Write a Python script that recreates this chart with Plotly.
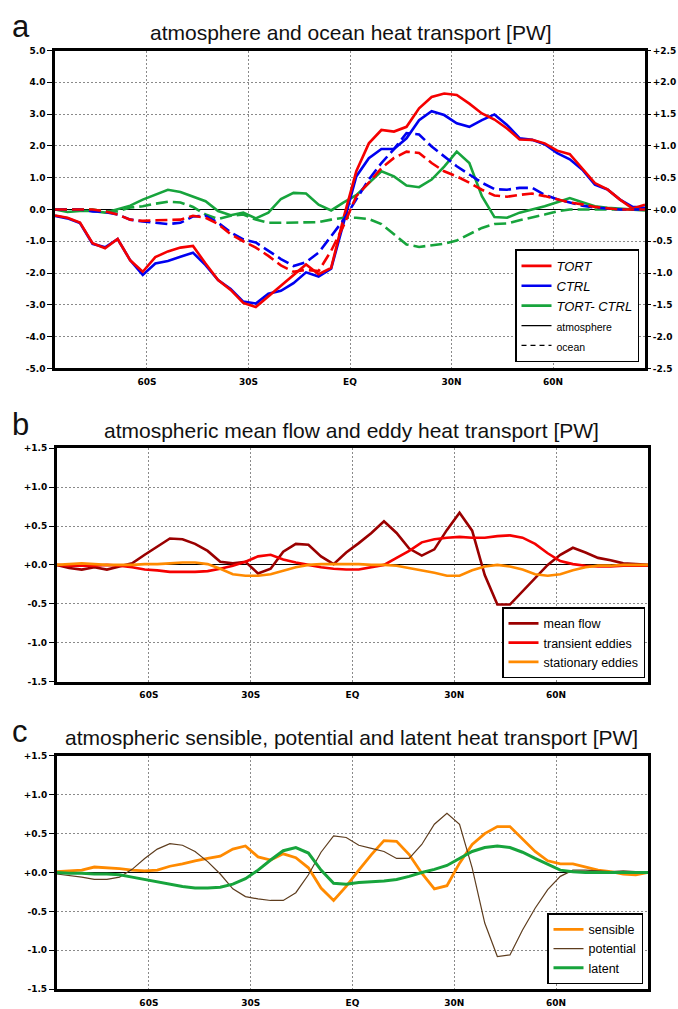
import plotly.graph_objects as go

W, H = 678, 1009

# ---------------- data ----------------
lat = [-87.16, -83.48, -79.78, -76.07, -72.36, -68.65, -64.94, -61.23, -57.52, -53.81,
       -50.10, -46.39, -42.68, -38.97, -35.26, -31.54, -27.83, -24.12, -20.41, -16.70,
       -12.99, -9.28, -5.57, -1.86, 1.86, 5.57, 9.28, 12.99, 16.70, 20.41,
       24.12, 27.83, 31.54, 35.26, 38.97, 42.68, 46.39, 50.10, 53.81, 57.52,
       61.23, 64.94, 68.65, 72.36, 76.07, 79.78, 83.48, 87.16]

x_tickvals = [-60, -30, 0, 30, 60]
x_ticktext = ["60S", "30S", "EQ", "30N", "60N"]

# panel a: atmosphere (left axis) [PW]
tort_atm = [-0.19, -0.26, -0.41, -1.06, -1.22, -0.93, -1.60, -1.96, -1.50, -1.32,
            -1.20, -1.15, -1.70, -2.22, -2.53, -2.94, -3.07, -2.73, -2.42, -2.06,
            -1.73, -2.04, -1.84, -0.25,
            1.20, 2.08, 2.50, 2.45, 2.60, 3.18, 3.54, 3.65, 3.60, 3.33,
            3.02, 2.83, 2.55, 2.20, 2.19, 2.08, 1.85, 1.74, 1.30, 0.83,
            0.63, 0.31, 0.03, 0.15]
ctrl_atm = [-0.20, -0.28, -0.43, -1.08, -1.19, -0.93, -1.60, -2.06, -1.70, -1.62,
            -1.49, -1.36, -1.75, -2.22, -2.50, -2.90, -2.96, -2.65, -2.56, -2.32,
            -1.98, -2.11, -1.86, -0.40,
            1.04, 1.61, 1.90, 1.90, 2.24, 2.81, 3.09, 2.97, 2.71, 2.60,
            2.81, 2.99, 2.66, 2.24, 2.19, 2.05, 1.77, 1.58, 1.25, 0.78,
            0.63, 0.31, 0.08, 0.05]
diff_atm = [0.00, -0.08, -0.05, -0.05, -0.10, 0.00, 0.12, 0.31, 0.46, 0.62,
            0.55, 0.41, 0.26, -0.05, -0.18, -0.10, -0.28, -0.10, 0.33, 0.52,
            0.50, 0.15, -0.03, 0.22,
            0.45, 0.83, 1.20, 1.04, 0.75, 0.70, 0.94, 1.35, 1.82, 1.46,
            0.42, -0.24, -0.26, -0.10, 0.00, 0.10, 0.23, 0.36, 0.23, 0.10,
            0.05, 0.02, 0.00, -0.03]

# panel a: ocean (right axis) [PW]
tort_ocn = [0.00, 0.00, 0.00, 0.00, -0.03, -0.08, -0.16, -0.18, -0.17, -0.17,
            -0.16, -0.10, -0.13, -0.23, -0.39, -0.50, -0.60, -0.73, -0.88, -0.98,
            -0.95, -0.97, -0.65, -0.25,
            0.21, 0.42, 0.65, 0.81, 0.91, 0.89, 0.73, 0.60, 0.52, 0.42,
            0.31, 0.22, 0.20, 0.23, 0.25, 0.21, 0.16, 0.11, 0.08, 0.04,
            0.02, 0.00, 0.00, 0.00]
ctrl_ocn = [0.00, 0.00, 0.00, -0.03, -0.04, -0.08, -0.16, -0.19, -0.21, -0.23,
            -0.21, -0.11, -0.10, -0.21, -0.36, -0.47, -0.52, -0.65, -0.78, -0.89,
            -0.83, -0.68, -0.42, -0.16,
            0.16, 0.47, 0.73, 0.95, 1.20, 1.18, 0.99, 0.83, 0.68, 0.55,
            0.42, 0.32, 0.31, 0.34, 0.34, 0.23, 0.16, 0.11, 0.06, 0.03,
            0.01, 0.00, 0.00, 0.00]
diff_ocn = [0.00, 0.00, 0.00, 0.00, -0.03, -0.03, 0.03, 0.05, 0.09, 0.12,
            0.11, 0.04, -0.08, -0.15, -0.10, -0.08, -0.16, -0.21, -0.21, -0.21,
            -0.21, -0.20, -0.16, -0.13,
            -0.13, -0.15, -0.23, -0.39, -0.55, -0.59, -0.57, -0.54, -0.49, -0.39,
            -0.29, -0.23, -0.22, -0.17, -0.13, -0.08, -0.03, 0.00, 0.00, 0.00,
            0.00, 0.00, 0.00, 0.00]

# panel b [PW]
mean_flow = [0.00, -0.04, -0.06, -0.03, -0.06, -0.02, 0.02, 0.13, 0.24, 0.34,
             0.33, 0.27, 0.18, 0.04, 0.02, 0.04, -0.11, -0.05, 0.17, 0.27,
             0.26, 0.11, 0.01, 0.16,
             0.28, 0.41, 0.56, 0.41, 0.21, 0.12, 0.20, 0.45, 0.67, 0.44,
             -0.13, -0.51, -0.51, -0.34, -0.17, 0.00, 0.13, 0.22, 0.16, 0.09,
             0.06, 0.02, 0.01, 0.00]
transient = [0.00, -0.01, -0.01, -0.01, 0.00, -0.01, -0.03, -0.06, -0.07, -0.09,
             -0.09, -0.09, -0.08, -0.05, -0.01, 0.04, 0.11, 0.13, 0.07, 0.03,
             0.00, -0.03, -0.05, -0.06,
             -0.06, -0.03, 0.00, 0.09, 0.18, 0.29, 0.33, 0.35, 0.36, 0.35,
             0.35, 0.37, 0.38, 0.35, 0.27, 0.15, 0.05, 0.01, -0.01, -0.02,
             -0.02, -0.01, -0.01, -0.01]
stationary = [0.00, 0.01, 0.02, 0.01, 0.00, 0.00, 0.00, 0.01, 0.01, 0.02,
              0.03, 0.03, 0.01, -0.05, -0.12, -0.14, -0.14, -0.12, -0.07, -0.03,
              0.00, 0.01, 0.01, 0.01,
              0.01, 0.00, 0.00, -0.01, -0.04, -0.07, -0.10, -0.14, -0.14, -0.07,
              -0.02, 0.00, -0.02, -0.06, -0.12, -0.14, -0.12, -0.07, -0.03, -0.01,
              -0.01, 0.00, 0.00, 0.00]

# panel c [PW]
sensible = [0.01, 0.02, 0.03, 0.07, 0.06, 0.05, 0.03, 0.02, 0.03, 0.08,
            0.11, 0.15, 0.18, 0.21, 0.30, 0.34, 0.20, 0.16, 0.24, 0.19,
            0.06, -0.20, -0.36, -0.18,
            0.03, 0.23, 0.41, 0.40, 0.23, -0.01, -0.21, -0.17, 0.12, 0.36,
            0.50, 0.59, 0.59, 0.43, 0.27, 0.15, 0.11, 0.11, 0.07, 0.03,
            0.01, -0.02, -0.03, 0.00]
potential = [-0.02, -0.04, -0.06, -0.09, -0.09, -0.06, 0.04, 0.18, 0.30, 0.37,
             0.35, 0.27, 0.14, -0.02, -0.21, -0.31, -0.34, -0.36, -0.36, -0.26,
             -0.03, 0.26, 0.47, 0.45,
             0.35, 0.31, 0.27, 0.18, 0.18, 0.36, 0.62, 0.76, 0.62, 0.06,
             -0.65, -1.08, -1.06, -0.74, -0.46, -0.22, -0.05, 0.03, 0.03, 0.02,
             0.01, 0.02, 0.01, 0.00]
latent = [0.00, -0.01, -0.01, -0.02, -0.02, -0.03, -0.06, -0.09, -0.12, -0.15,
          -0.18, -0.20, -0.20, -0.19, -0.15, -0.08, 0.03, 0.16, 0.28, 0.32,
          0.25, 0.03, -0.14, -0.15,
          -0.13, -0.12, -0.11, -0.09, -0.05, 0.00, 0.04, 0.09, 0.18, 0.27,
          0.32, 0.34, 0.32, 0.26, 0.18, 0.10, 0.03, 0.01, 0.00, 0.00,
          0.00, 0.00, 0.00, 0.00]

ya_vals = [5, 4, 3, 2, 1, 0, -1, -2, -3, -4, -5]
ya_text = ["5.0", "4.0", "3.0", "2.0", "1.0", "0.0", "-1.0", "-2.0", "-3.0", "-4.0", "-5.0"]
yr_vals = [2.5, 2.0, 1.5, 1.0, 0.5, 0.0, -0.5, -1.0, -1.5, -2.0, -2.5]
yr_text = ["+2.5", "+2.0", "+1.5", "+1.0", "+0.5", "+0.0", "-0.5", "-1.0", "-1.5", "-2.0", "-2.5"]
ybc_vals = [1.5, 1.0, 0.5, 0.0, -0.5, -1.0, -1.5]
ybc_text = ["+1.5", "+1.0", "+0.5", "+0.0", "-0.5", "-1.0", "-1.5"]

# ---------------- styles ----------------
RED = "#f50000"
BLUE = "#0000f0"
GREEN = "#17a43c"
DARKRED = "#9a0000"
ORANGE = "#ff8a00"
BROWN = "#5e3d1e"
DASH = "12px,5px"
LW = 2.6

fig = go.Figure()

def add(x, y, name, color, width, xa, ya, legend, dash="solid", show=True, rank=1000):
    fig.add_trace(go.Scatter(x=x, y=y, name=name, mode="lines",
                             line=dict(color=color, width=width, dash=dash),
                             xaxis=xa, yaxis=ya, legend=legend, showlegend=show,
                             legendrank=rank))

# panel a
add(lat, diff_ocn, "TORT- CTRL ocean", GREEN, LW, "x", "y2", "legend", DASH, False)
add(lat, ctrl_ocn, "CTRL ocean", BLUE, LW, "x", "y2", "legend", DASH, False)
add(lat, tort_ocn, "TORT ocean", RED, LW, "x", "y2", "legend", DASH, False)
add(lat, diff_atm, "<i>TORT- CTRL</i>", GREEN, LW, "x", "y", "legend", rank=3)
add(lat, ctrl_atm, "<i>CTRL</i>", BLUE, LW, "x", "y", "legend", rank=2)
add(lat, tort_atm, "<i>TORT</i>", RED, LW, "x", "y", "legend", rank=1)
add([None], [None], "<span style='font-size:10.5px'>atmosphere</span>", "black", 1.3,
    "x", "y", "legend", rank=4)
add([None], [None], "<span style='font-size:10.5px'>ocean</span>", "black", 1.3,
    "x", "y", "legend", "5px,4px", rank=5)

# panel b
add(lat, mean_flow, "mean flow", DARKRED, LW, "x2", "y3", "legend2", rank=1)
add(lat, transient, "transient eddies", RED, LW, "x2", "y3", "legend2", rank=2)
add(lat, stationary, "stationary eddies", ORANGE, LW, "x2", "y3", "legend2", rank=3)

# panel c
add(lat, sensible, "sensible", ORANGE, 2.8, "x3", "y4", "legend3", rank=1)
add(lat, potential, "potential", BROWN, 1.2, "x3", "y4", "legend3", rank=2)
add(lat, latent, "latent", GREEN, 3.0, "x3", "y4", "legend3", rank=3)

# ---------------- layout ----------------
def py(p):
    return 1 - p / H

def px(p):
    return p / W

tickfont = dict(family="DejaVu Sans", size=9, color="black", weight="bold")
GRID = dict(showgrid=True, gridcolor="#8a8a8a", gridwidth=1.3, griddash="2px,2px")

def xaxis(domain, anchor):
    return dict(domain=domain, anchor=anchor, range=[-87.16, 87.16],
                tickmode="array", tickvals=x_tickvals, ticktext=x_ticktext,
                tickfont=tickfont, ticks="", ticklabelstandoff=3,
                zeroline=False, showline=True, mirror=True, linewidth=2.5,
                linecolor="black", **GRID)

def yaxis(domain, anchor, rng, vals, text):
    return dict(domain=domain, anchor=anchor, range=rng,
                tickmode="array", tickvals=vals, ticktext=text,
                tickfont=tickfont, ticks="outside", ticklen=5, tickwidth=1.3,
                tickcolor="black", zeroline=True, zerolinecolor="black",
                zerolinewidth=1.3, showline=True, mirror=True, linewidth=2.5,
                linecolor="black", **GRID)

xa_dom = [px(55), px(645)]
xbc_dom = [px(56.7), px(648.3)]
ya_dom = [py(367), py(46)]
yb_dom = [py(683.3), py(447.7)]
yc_dom = [py(994), py(758.3)]

legend_common = dict(bgcolor="white", bordercolor="black", borderwidth=1.5,
                     tracegroupgap=0, itemwidth=30, xanchor="right",
                     yanchor="bottom", traceorder="normal")

fig.update_layout(
    width=W, height=H, margin=dict(l=0, r=0, t=0, b=0),
    paper_bgcolor="white", plot_bgcolor="white",
    font=dict(family="Liberation Sans", color="black"),
    xaxis=xaxis(xa_dom, "y"),
    yaxis=yaxis(ya_dom, "x", [-5, 5], ya_vals, ya_text),
    yaxis2=dict(overlaying="y", anchor="x", side="right", range=[-2.5, 2.5],
                tickmode="array", tickvals=yr_vals, ticktext=yr_text,
                tickfont=tickfont, ticks="outside", ticklen=5, tickwidth=1.3,
                tickcolor="black", showgrid=False, zeroline=False, showline=False),
    xaxis2=xaxis(xbc_dom, "y3"),
    yaxis3=yaxis(yb_dom, "x2", [-1.5, 1.5], ybc_vals, ybc_text),
    xaxis3=xaxis(xbc_dom, "y4"),
    yaxis4=yaxis(yc_dom, "x3", [-1.5, 1.5], ybc_vals, ybc_text),
    legend=dict(x=px(639), y=py(361), font=dict(size=13, color="black"),
                **legend_common),
    legend2=dict(x=px(645), y=py(680), font=dict(size=12.5, color="black"),
                 **legend_common),
    legend3=dict(x=px(643), y=py(989), font=dict(size=12.5, color="black"),
                 **legend_common),
)

titles = [
    ("a", "atmosphere and ocean heat transport [PW]", 22, 28),
    ("b", "atmospheric mean flow and eddy heat transport [PW]", 424, 430),
    ("c", "atmospheric sensible, potential and latent heat transport [PW]", 734, 740),
]
for letter, text, ly, ty in titles:
    fig.add_annotation(x=px(10), y=py(ly), xref="paper", yref="paper", text=letter,
                       showarrow=False, xanchor="left", yanchor="middle",
                       font=dict(size=31, family="Liberation Sans", color="#111"))
    fig.add_annotation(x=px(351), y=py(ty), xref="paper", yref="paper", text=text,
                       showarrow=False, xanchor="center", yanchor="middle",
                       font=dict(size=21, family="Liberation Sans", color="#111"))

fig.write_html("out.html")
